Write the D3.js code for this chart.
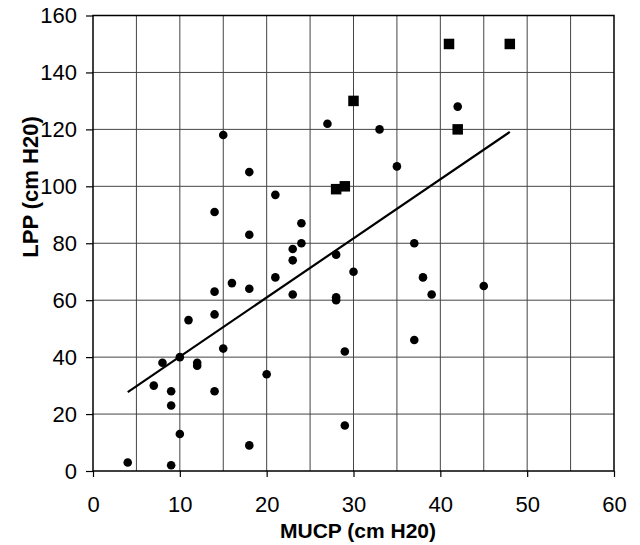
<!DOCTYPE html>
<html>
<head>
<meta charset="utf-8">
<script src="https://cdn.jsdelivr.net/npm/d3@7"></script>
<style>
  body { margin: 0; background: #fff; }
  text { font-family: "Liberation Sans", Arial, sans-serif; fill: #000; }
</style>
</head>
<body>
<div id="chart"></div>
<script>
var width = 640,
    height = 545;
var margin = {top: 15.5, right: 26, bottom: 74, left: 93};

// circles (MUCP, LPP)
var circleX = [15, 18, 14, 21, 18, 24, 24, 23, 23, 21, 42, 27, 33, 35, 37, 28, 30, 38,
               4, 9, 10, 18, 9, 9, 7, 8, 10, 12, 12, 14, 15, 20, 11, 14, 14, 16, 18, 23,
               39, 45, 28, 28, 37, 29, 29];
var circleY = [118, 105, 91, 97, 83, 87, 80, 78, 74, 68, 128, 122, 120, 107, 80, 76, 70, 68,
               3, 2, 13, 9, 23, 28, 30, 38, 40, 38, 37, 28, 43, 34, 53, 55, 63, 66, 64, 62,
               62, 65, 61, 60, 46, 42, 16];
// squares
var squareX = [41, 48, 30, 42, 28, 29];
var squareY = [150, 150, 130, 120, 99, 100];
// fitted line endpoints as drawn
var trendX = [4, 48];
var trendY = [27.7, 119.1];

var xTicks = [0, 10, 20, 30, 40, 50, 60];
var yTicks = [0, 20, 40, 60, 80, 100, 120, 140, 160];
var xGrid = [5, 10, 15, 20, 25, 30, 35, 40, 45, 50, 55];
var yGrid = [20, 40, 60, 80, 100, 120, 140];

var svg = d3.select('#chart').append('svg')
  .attr('width', width)
  .attr('height', height);

var x = d3.scaleLinear().domain([0, 60]).range([margin.left, width - margin.right]);
var y = d3.scaleLinear().domain([0, 160]).range([height - margin.bottom, margin.top]);

// grid
svg.append('g').selectAll('line.vg')
  .data(xGrid).enter().append('line')
  .attr('x1', d => x(d)).attr('x2', d => x(d))
  .attr('y1', y(0)).attr('y2', y(160))
  .attr('stroke', '#444').attr('stroke-width', 1);

svg.append('g').selectAll('line.hg')
  .data(yGrid).enter().append('line')
  .attr('x1', x(0)).attr('x2', x(60))
  .attr('y1', d => y(d)).attr('y2', d => y(d))
  .attr('stroke', '#444').attr('stroke-width', 1);

// frame
svg.append('rect')
  .attr('x', x(0)).attr('y', y(160))
  .attr('width', x(60) - x(0)).attr('height', y(0) - y(160))
  .attr('fill', 'none').attr('stroke', '#000').attr('stroke-width', 1.5);

// axes
var xAxis = svg.append('g')
  .attr('transform', 'translate(0,' + y(0) + ')')
  .call(d3.axisBottom(x).tickValues(xTicks).tickSize(6).tickPadding(19).tickSizeOuter(0));
var yAxis = svg.append('g')
  .attr('transform', 'translate(' + x(0) + ',0)')
  .call(d3.axisLeft(y).tickValues(yTicks).tickSize(7).tickPadding(9).tickSizeOuter(0));

[xAxis, yAxis].forEach(function(a) {
  a.select('.domain').remove();
  a.selectAll('line').attr('stroke', '#000').attr('stroke-width', 1.2);
  a.selectAll('text')
    .style('font-family', '"Liberation Sans", Arial, sans-serif')
    .style('font-size', '22px')
    .attr('fill', '#000');
});

// trend line
svg.append('line')
  .attr('x1', x(trendX[0])).attr('y1', y(trendY[0]))
  .attr('x2', x(trendX[1])).attr('y2', y(trendY[1]))
  .attr('stroke', '#000').attr('stroke-width', 2.2);

// points
svg.append('g').selectAll('circle')
  .data(d3.range(circleX.length)).enter().append('circle')
  .attr('cx', i => x(circleX[i]))
  .attr('cy', i => y(circleY[i]))
  .attr('r', 4.3)
  .attr('fill', '#000');

var sq = 10.5;
svg.append('g').selectAll('rect')
  .data(d3.range(squareX.length)).enter().append('rect')
  .attr('x', i => x(squareX[i]) - sq / 2)
  .attr('y', i => y(squareY[i]) - sq / 2)
  .attr('width', sq).attr('height', sq)
  .attr('fill', '#000');

// axis titles
svg.append('text')
  .attr('x', 358).attr('y', 538)
  .attr('text-anchor', 'middle')
  .style('font-size', '21px')
  .style('font-weight', 'bold')
  .text('MUCP (cm H20)');

svg.append('text')
  .attr('transform', 'translate(38,187) rotate(-90)')
  .attr('text-anchor', 'middle')
  .style('font-size', '22px')
  .style('font-weight', 'bold')
  .text('LPP (cm H20)');
</script>
</body>
</html>
